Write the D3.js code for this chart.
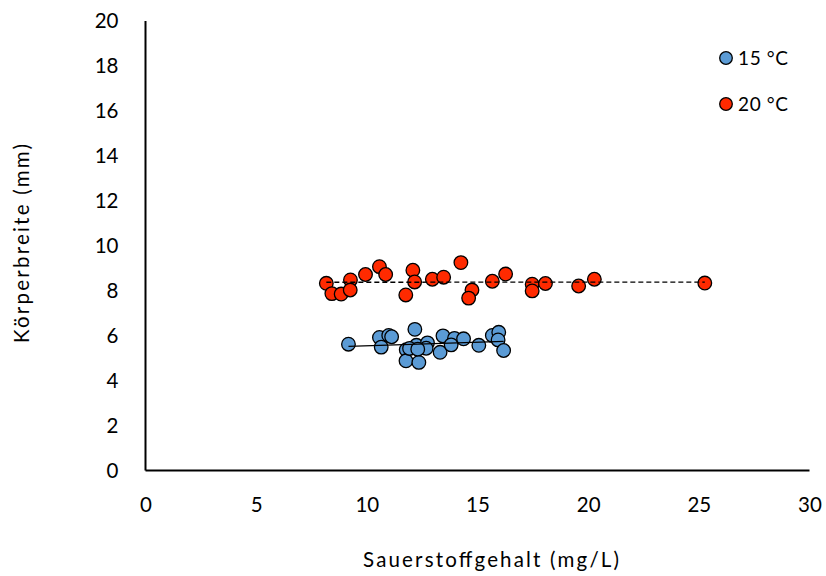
<!DOCTYPE html>
<html>
<head>
<meta charset="utf-8">
<script src="https://cdn.jsdelivr.net/npm/d3@7"></script>
<style>
  html, body { margin: 0; padding: 0; background: #fff; }
  svg { display: block; font-family: Lato, "Open Sans", sans-serif; }
</style>
</head>
<body>
<svg id="chart" width="826" height="576"></svg>
<script>
// Oxygen content (mg/L) and body width (mm) per temperature group
const o2_15 = [9.17, 10.57, 10.99, 11.12, 10.65, 12.17, 11.78, 11.77, 12.35, 12.24, 11.93, 12.74, 12.68, 12.30,
               13.31, 13.44, 13.96, 13.81, 14.37, 15.06, 15.67, 15.96, 15.93, 16.18];
const width_15 = [5.62, 5.92, 6.01, 5.95, 5.49, 6.28, 5.37, 4.88, 4.81, 5.57, 5.43, 5.68, 5.44, 5.40,
                  5.26, 5.99, 5.88, 5.59, 5.86, 5.57, 6.01, 6.15, 5.81, 5.34];

const o2_20 = [8.17, 8.42, 8.84, 9.26, 9.25, 9.94, 10.57, 10.85, 12.08, 12.16, 11.76, 12.96, 13.47, 14.25,
               14.75, 14.60, 15.67, 16.27, 17.47, 17.47, 18.07, 19.57, 20.28, 25.27];
const width_20 = [8.33, 7.87, 7.85, 8.48, 8.03, 8.72, 9.07, 8.72, 8.91, 8.39, 7.81, 8.51, 8.60, 9.25,
                  8.03, 7.67, 8.42, 8.74, 8.29, 7.99, 8.32, 8.21, 8.51, 8.34];

const xTicks = [0, 5, 10, 15, 20, 25, 30];
const yTicks = [0, 2, 4, 6, 8, 10, 12, 14, 16, 18, 20];

const seriesNames = ["15 °C", "20 °C"];
const seriesColors = ["#5B9BD5", "#FF2A00"];
const trendDash = [null, "5,3"];

const svg = d3.select("#chart");

const x = d3.scaleLinear().domain([0, 30]).range([145.5, 809.5]);
const y = d3.scaleLinear().domain([0, 20]).range([470.5, 21]);

// axis lines (no ticks, labels only)
const xAxis = d3.axisBottom(x).tickValues(xTicks).tickSize(0).tickPadding(27);
const yAxis = d3.axisLeft(y).tickValues(yTicks).tickSize(0).tickPadding(27);

const gx = svg.append("g").attr("transform", `translate(0,${y(0)})`).call(xAxis);
const gy = svg.append("g").attr("transform", `translate(${x(0)},0)`).call(yAxis);

[gx, gy].forEach(g => {
  g.select(".domain").attr("stroke", "#000").attr("stroke-width", 2);
  g.selectAll("text").attr("fill", "#000").style("font-size", "20.5px").style("font-family", "Lato, 'Open Sans', sans-serif");
});
gx.select(".domain").attr("d", `M${x(0)},0H${x(30)}`);
gy.select(".domain").attr("d", `M0,${y(0)}V${y(20)}`);

// axis titles
svg.append("text")
  .attr("x", 363).attr("y", 567)
  .attr("textLength", 256).attr("lengthAdjust", "spacing")
  .style("font-size", "20.5px")
  .text("Sauerstoffgehalt (mg/L)");

svg.append("text")
  .attr("transform", "translate(29,343) rotate(-90)")
  .attr("textLength", 199).attr("lengthAdjust", "spacing")
  .style("font-size", "20.5px")
  .text("Körperbreite (mm)");

const groups = [
  o2_15.map((v, i) => ({ x: v, y: width_15[i] })),
  o2_20.map((v, i) => ({ x: v, y: width_20[i] }))
];

// markers
groups.forEach((pts, s) => {
  svg.append("g").selectAll("circle")
    .data(pts).join("circle")
    .attr("cx", d => x(d.x))
    .attr("cy", d => y(d.y))
    .attr("r", 6.8)
    .attr("fill", seriesColors[s])
    .attr("stroke", "#000")
    .attr("stroke-width", 1.3);
});

// least-squares trend lines over the observed range
groups.forEach((pts, s) => {
  const mx = d3.mean(pts, d => d.x), my = d3.mean(pts, d => d.y);
  const sxy = d3.sum(pts, d => (d.x - mx) * (d.y - my));
  const sxx = d3.sum(pts, d => (d.x - mx) * (d.x - mx));
  const b = sxy / sxx, a = my - b * mx;
  const [x0, x1] = d3.extent(pts, d => d.x);
  svg.append("line")
    .attr("x1", x(x0)).attr("y1", y(a + b * x0))
    .attr("x2", x(x1)).attr("y2", y(a + b * x1))
    .attr("stroke", "#000")
    .attr("stroke-width", 1.3)
    .attr("stroke-dasharray", trendDash[s]);
});

// legend
const legend = svg.append("g");
seriesNames.forEach((name, i) => {
  const ly = 58 + i * 46;
  legend.append("circle")
    .attr("cx", 726).attr("cy", ly).attr("r", 6.3)
    .attr("fill", seriesColors[i]).attr("stroke", "#000").attr("stroke-width", 1.3);
  legend.append("text")
    .attr("x", 738).attr("y", ly + 7)
    .attr("textLength", 50).attr("lengthAdjust", "spacing")
    .style("font-size", "19px")
    .text(name);
});
</script>
</body>
</html>
